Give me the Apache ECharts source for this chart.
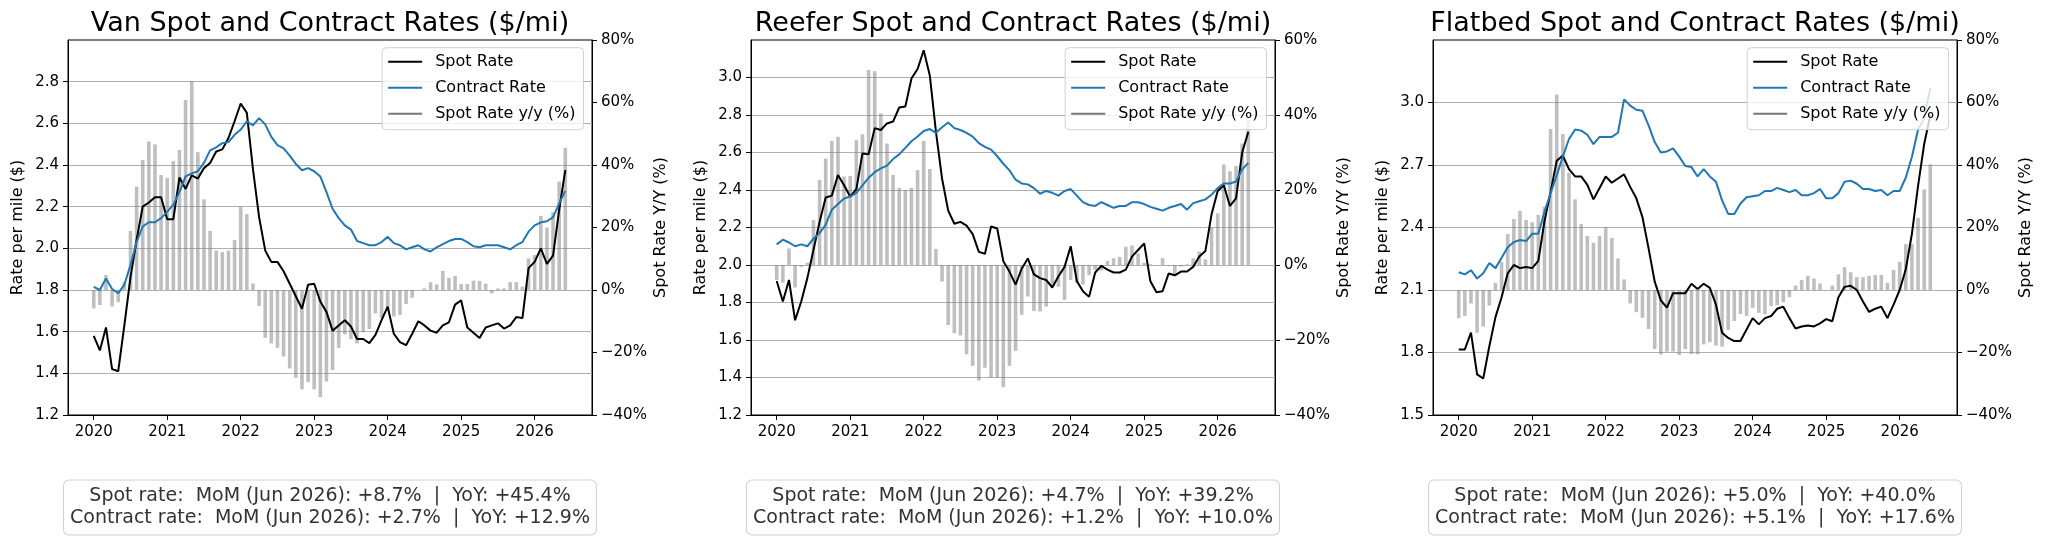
<!DOCTYPE html>
<html>
<head>
<meta charset="utf-8">
<title>Spot and Contract Rates</title>
<script src="https://cdn.jsdelivr.net/npm/echarts@6/dist/echarts.min.js"></script>
<style>
html, body { margin: 0; padding: 0; background: #fff; }
#chart { width: 2048px; height: 538px; }
</style>
</head>
<body>
<div id="chart"></div>
<script>
// monthly values, Jan 2020 .. Jun 2026 (78 months)
var firstYear = 2020;
var yearTicks = [2020, 2021, 2022, 2023, 2024, 2025, 2026];

var vanSpot = [1.58, 1.51, 1.62, 1.42, 1.41, 1.63, 1.86, 2.04, 2.20, 2.22, 2.245, 2.245,
  2.14, 2.14, 2.34, 2.285, 2.35, 2.335, 2.385, 2.41, 2.465, 2.475, 2.53, 2.61,
  2.695, 2.65, 2.38, 2.15, 1.99, 1.935, 1.935, 1.89, 1.83, 1.77, 1.71, 1.825,
  1.83, 1.745, 1.695, 1.605, 1.63, 1.655, 1.625, 1.565, 1.565, 1.545, 1.585, 1.655,
  1.72, 1.59, 1.55, 1.535, 1.59, 1.65, 1.63, 1.605, 1.595, 1.63, 1.645, 1.73,
  1.75, 1.62, 1.595, 1.57, 1.62, 1.63, 1.64, 1.615, 1.63, 1.67, 1.665, 1.905,
  1.935, 2.0, 1.925, 1.965, 2.185, 2.375];
var vanContract = [1.815, 1.80, 1.855, 1.805, 1.785, 1.825, 1.92, 2.03, 2.105, 2.125, 2.125, 2.145,
  2.175, 2.21, 2.27, 2.345, 2.36, 2.37, 2.41, 2.47, 2.485, 2.505, 2.51, 2.545,
  2.57, 2.61, 2.59, 2.625, 2.595, 2.535, 2.495, 2.48, 2.445, 2.405, 2.375, 2.385,
  2.37, 2.345, 2.27, 2.19, 2.145, 2.11, 2.09, 2.035, 2.025, 2.015, 2.015, 2.03,
  2.055, 2.025, 2.015, 1.995, 2.005, 2.015, 1.995, 1.985, 2.005, 2.02, 2.035, 2.045,
  2.045, 2.03, 2.01, 2.005, 2.015, 2.015, 2.015, 2.005, 1.995, 2.015, 2.03, 2.08,
  2.11, 2.125, 2.13, 2.15, 2.215, 2.275];
var vanYoy = [-5.9, -4.8, 4.8, -5.3, -3.9, 2.5, 18.9, 33.1, 41.6, 47.5, 46.6, 36.8,
  35.9, 41.3, 44.8, 60.8, 66.9, 44.1, 29.0, 18.9, 12.6, 12.1, 12.6, 16.0,
  26.7, 24.3, 2.1, -5.1, -15.3, -17.1, -18.5, -21.3, -25.1, -28.1, -31.8, -29.5,
  -31.8, -34.3, -29.3, -25.6, -18.5, -14.2, -15.7, -17.1, -13.5, -12.5, -7.5, -9.0,
  -6.5, -8.5, -8.0, -4.5, -2.5, 0.0, 0.5, 2.5, 1.8, 6.1, 3.9, 4.5,
  1.9, 1.9, 3.0, 2.9, 2.0, -1.1, 0.5, 0.5, 2.5, 2.5, 1.1, 10.1,
  11.2, 23.7, 20.0, 24.9, 34.7, 45.5];

var reeferSpot = [1.915, 1.805, 1.92, 1.705, 1.805, 1.93, 2.08, 2.23, 2.36, 2.37, 2.48, 2.425,
  2.365, 2.405, 2.595, 2.59, 2.73, 2.72, 2.755, 2.765, 2.84, 2.845, 2.995, 3.045,
  3.145, 3.01, 2.71, 2.46, 2.29, 2.22, 2.23, 2.21, 2.165, 2.07, 2.06, 2.205,
  2.195, 2.02, 1.965, 1.895, 1.98, 2.035, 1.95, 1.93, 1.92, 1.88, 1.94, 1.99,
  2.10, 1.915, 1.86, 1.83, 1.96, 1.995, 1.975, 1.96, 1.96, 1.975, 2.045, 2.08,
  2.115, 1.915, 1.855, 1.86, 1.955, 1.945, 1.965, 1.965, 1.99, 2.045, 2.075, 2.27,
  2.395, 2.425, 2.315, 2.355, 2.60, 2.71];
var reeferContract = [2.11, 2.135, 2.12, 2.10, 2.11, 2.10, 2.14, 2.17, 2.215, 2.295, 2.325, 2.355,
  2.365, 2.385, 2.425, 2.465, 2.495, 2.515, 2.53, 2.565, 2.59, 2.625, 2.66, 2.685,
  2.715, 2.725, 2.705, 2.735, 2.76, 2.73, 2.72, 2.705, 2.685, 2.65, 2.63, 2.615,
  2.58, 2.54, 2.505, 2.455, 2.435, 2.43, 2.41, 2.38, 2.395, 2.385, 2.37, 2.395,
  2.405, 2.37, 2.335, 2.32, 2.315, 2.335, 2.32, 2.305, 2.315, 2.315, 2.335, 2.335,
  2.325, 2.31, 2.30, 2.29, 2.305, 2.315, 2.325, 2.295, 2.33, 2.34, 2.35, 2.375,
  2.41, 2.435, 2.435, 2.445, 2.51, 2.545];
var reeferYoy = [-4.0, -4.7, 4.4, -6.0, -0.5, 0.6, 12.0, 22.7, 28.4, 33.1, 34.2, 23.6,
  23.7, 33.3, 34.9, 52.0, 51.7, 40.4, 32.4, 24.0, 20.6, 20.0, 20.6, 25.3,
  33.1, 25.6, 4.3, -4.4, -16.0, -18.2, -18.8, -23.8, -26.9, -30.8, -27.4, -30.0,
  -30.0, -32.6, -26.9, -22.9, -13.3, -8.4, -12.3, -12.4, -11.1, -5.3, -5.8, -9.3,
  -4.0, -4.8, -5.2, -2.7, -1.3, -1.5, 1.1, 1.8, 2.2, 4.9, 5.2, 3.1,
  0.6, 0.2, 0.0, 1.8, -0.3, -2.4, -0.4, 0.2, 1.8, 3.6, 1.5, 10.0,
  13.8, 26.8, 25.0, 26.4, 32.4, 38.8];

var flatbedSpot = [1.815, 1.815, 1.895, 1.695, 1.675, 1.83, 1.97, 2.065, 2.18, 2.22, 2.205, 2.21,
  2.205, 2.24, 2.43, 2.57, 2.72, 2.745, 2.68, 2.645, 2.645, 2.605, 2.535, 2.59,
  2.645, 2.615, 2.635, 2.655, 2.595, 2.54, 2.45, 2.30, 2.14, 2.05, 2.015, 2.085,
  2.085, 2.085, 2.13, 2.105, 2.13, 2.11, 2.03, 1.895, 1.87, 1.855, 1.855, 1.91,
  1.965, 1.935, 1.965, 1.975, 2.01, 2.02, 1.965, 1.915, 1.925, 1.93, 1.925, 1.94,
  1.96, 1.95, 2.065, 2.115, 2.12, 2.10, 2.045, 1.995, 2.01, 2.02, 1.965, 2.03,
  2.10, 2.20, 2.37, 2.60, 2.80, 2.94];
var flatbedContract = [2.185, 2.175, 2.195, 2.155, 2.18, 2.23, 2.205, 2.255, 2.305, 2.33, 2.34, 2.335,
  2.37, 2.37, 2.475, 2.565, 2.65, 2.74, 2.825, 2.87, 2.865, 2.845, 2.80, 2.835,
  2.835, 2.835, 2.855, 3.015, 2.985, 2.965, 2.96, 2.89, 2.81, 2.76, 2.765, 2.78,
  2.74, 2.695, 2.69, 2.645, 2.68, 2.645, 2.62, 2.53, 2.465, 2.465, 2.515, 2.545,
  2.55, 2.555, 2.575, 2.575, 2.59, 2.58, 2.57, 2.58, 2.555, 2.555, 2.565, 2.585,
  2.54, 2.54, 2.565, 2.62, 2.625, 2.61, 2.585, 2.585, 2.575, 2.58, 2.555, 2.575,
  2.575, 2.64, 2.74, 2.87, 2.925, 3.07];
var flatbedYoy = [-9.0, -8.3, -4.3, -13.7, -11.7, -5.0, 2.3, 9.0, 17.9, 22.7, 25.3, 22.4,
  21.7, 24.0, 26.7, 51.5, 62.6, 49.9, 37.5, 29.0, 21.1, 17.3, 15.1, 17.3,
  20.1, 16.7, 10.1, 3.4, -4.3, -7.1, -8.9, -12.5, -18.9, -20.6, -19.7, -19.7,
  -20.8, -18.9, -20.5, -20.6, -17.4, -16.7, -17.8, -18.1, -12.8, -9.9, -7.7, -8.3,
  -5.7, -7.3, -7.8, -5.1, -4.8, -3.9, -2.3, 1.4, 3.2, 4.5, 3.7, 2.1,
  0.0, 1.4, 5.0, 7.3, 5.7, 4.1, 4.1, 4.5, 4.8, 4.8, 2.3, 6.4,
  9.0, 14.7, 14.7, 23.1, 32.2, 40.2];

var vanTicks = [1.2, 1.4, 1.6, 1.8, 2.0, 2.2, 2.4, 2.6, 2.8];
var reeferTicks = [1.2, 1.4, 1.6, 1.8, 2.0, 2.2, 2.4, 2.6, 2.8, 3.0];
var flatbedTicks = [1.5, 1.8, 2.1, 2.4, 2.7, 3.0];
var pctTicks80 = [-40, -20, 0, 20, 40, 60, 80];
var pctTicks60 = [-40, -20, 0, 20, 40, 60];

var vanNote = 'Spot rate:  MoM (Jun 2026): +8.7%  |  YoY: +45.4%\nContract rate:  MoM (Jun 2026): +2.7%  |  YoY: +12.9%';
var reeferNote = 'Spot rate:  MoM (Jun 2026): +4.7%  |  YoY: +39.2%\nContract rate:  MoM (Jun 2026): +1.2%  |  YoY: +10.0%';
var flatbedNote = 'Spot rate:  MoM (Jun 2026): +5.0%  |  YoY: +40.0%\nContract rate:  MoM (Jun 2026): +5.1%  |  YoY: +17.6%';

var panels = [
  { title: 'Van Spot and Contract Rates ($/mi)', spot: vanSpot, contract: vanContract, yoy: vanYoy,
    left: 68, yMin: 1.2, yMax: 3.0, yStep: 0.2, ticks: vanTicks, pMax: 80, pTicks: pctTicks80, note: vanNote },
  { title: 'Reefer Spot and Contract Rates ($/mi)', spot: reeferSpot, contract: reeferContract, yoy: reeferYoy,
    left: 751, yMin: 1.2, yMax: 3.2, yStep: 0.2, ticks: reeferTicks, pMax: 60, pTicks: pctTicks60, note: reeferNote },
  { title: 'Flatbed Spot and Contract Rates ($/mi)', spot: flatbedSpot, contract: flatbedContract, yoy: flatbedYoy,
    left: 1433, yMin: 1.5, yMax: 3.3, yStep: 0.3, ticks: flatbedTicks, pMax: 80, pTicks: pctTicks80, note: flatbedNote }
];

var plotTop = 40, plotH = 375, plotW = 524;
var font = 'DejaVu Sans';

function monthX(i) { return firstYear + i / 12; }
function pairs(arr) { return arr.map(function (v, i) { return [monthX(i), v]; }); }
function pctLabel(v) { return (v < 0 ? '\u2212' + Math.abs(v) : v) + '%'; }

var grids = [], xAxes = [], yAxes = [], series = [], legends = [], graphics = [];

panels.forEach(function (p, k) {
  grids.push({ left: p.left, top: plotTop, width: plotW, height: plotH,
    show: true, borderColor: '#000', borderWidth: 1, backgroundColor: '#fff' });

  xAxes.push({
    gridIndex: k, type: 'value', min: 2019.65, max: 2026.78,
    axisLine: { show: true, onZero: false, lineStyle: { color: '#000', width: 1 } },
    axisTick: { show: true, customValues: yearTicks, length: 5, lineStyle: { color: '#000' } },
    axisLabel: { customValues: yearTicks, formatter: function (v) { return String(Math.round(v)); },
      color: '#000', fontSize: 15, fontFamily: font, margin: 10 },
    splitLine: { show: false }
  });

  yAxes.push({
    gridIndex: k, type: 'value', position: 'left', min: p.yMin, max: p.yMax, interval: p.yStep,
    name: 'Rate per mile ($)', nameLocation: 'middle', nameRotate: 90, nameGap: 42,
    nameTextStyle: { color: '#000', fontSize: 16, fontFamily: font },
    axisLine: { show: true, onZero: false, lineStyle: { color: '#000', width: 1 } },
    axisTick: { show: true, customValues: p.ticks, length: 5, lineStyle: { color: '#000' } },
    axisLabel: { customValues: p.ticks, formatter: function (v) { return v.toFixed(1); },
      color: '#000', fontSize: 15, fontFamily: font, margin: 9 },
    splitLine: { show: true, lineStyle: { color: '#b0b0b0', width: 1 } }
  });
  yAxes.push({
    gridIndex: k, type: 'value', position: 'right', min: -40, max: p.pMax, interval: 20,
    name: 'Spot Rate Y/Y (%)', nameLocation: 'middle', nameRotate: 90, nameGap: 61,
    nameTextStyle: { color: '#000', fontSize: 16, fontFamily: font },
    axisLine: { show: true, onZero: false, lineStyle: { color: '#000', width: 1 } },
    axisTick: { show: true, customValues: p.pTicks, length: 5, lineStyle: { color: '#000' } },
    axisLabel: { customValues: p.pTicks, formatter: pctLabel, color: '#000', fontSize: 15, fontFamily: font, margin: 9 },
    splitLine: { show: false }
  });

  series.push({
    type: 'bar', name: 'Spot Rate y/y (%)', xAxisIndex: k, yAxisIndex: 2 * k + 1,
    data: pairs(p.yoy), barWidth: 3.6, itemStyle: { color: 'rgba(128,128,128,0.5)' }, silent: true
  });
  series.push({
    type: 'line', name: 'Spot Rate', xAxisIndex: k, yAxisIndex: 2 * k,
    data: pairs(p.spot), showSymbol: false, itemStyle: { color: '#000' },
    lineStyle: { color: '#000', width: 2 }, silent: true
  });
  series.push({
    type: 'line', name: 'Contract Rate', xAxisIndex: k, yAxisIndex: 2 * k,
    data: pairs(p.contract), showSymbol: false, itemStyle: { color: '#1f77b4' },
    lineStyle: { color: '#1f77b4', width: 2 }, silent: true
  });

  legends.push({
    orient: 'vertical', right: 2048 - (p.left + plotW - 8.5), top: 47.7,
    backgroundColor: 'rgba(255,255,255,0.8)', borderColor: '#d0d0d0', borderWidth: 1, borderRadius: 4,
    padding: [6, 8, 8, 6], itemGap: 10, itemWidth: 34, itemHeight: 2, icon: 'rect',
    selectedMode: false,
    textStyle: { color: '#000', fontSize: 16, fontFamily: font, lineHeight: 16, padding: [0, 0, 0, 8] },
    data: [
      { name: 'Spot Rate' },
      { name: 'Contract Rate' },
      { name: 'Spot Rate y/y (%)', itemStyle: { color: '#777' } }
    ]
  });

  var cx = p.left + plotW / 2;
  graphics.push({
    type: 'text', x: cx, y: 23.5, z: 10,
    style: { text: p.title, font: '27px "DejaVu Sans"', fill: '#000', align: 'center', verticalAlign: 'middle' }
  });
  graphics.push({
    type: 'text', x: cx, y: 480.5, z: 10,
    style: { text: p.note, font: '19px "DejaVu Sans"', fill: '#333', align: 'center', verticalAlign: 'top',
      lineHeight: 22, padding: [5, 6, 5, 6], backgroundColor: '#fff',
      borderColor: '#cfcfcf', borderWidth: 1, borderRadius: 5 }
  });
});

var chart = echarts.init(document.getElementById('chart'), null, { renderer: 'canvas' });
chart.setOption({
  animation: false,
  backgroundColor: '#fff',
  textStyle: { fontFamily: font },
  grid: grids,
  xAxis: xAxes,
  yAxis: yAxes,
  legend: legends,
  series: series,
  graphic: graphics
});
</script>
</body>
</html>
